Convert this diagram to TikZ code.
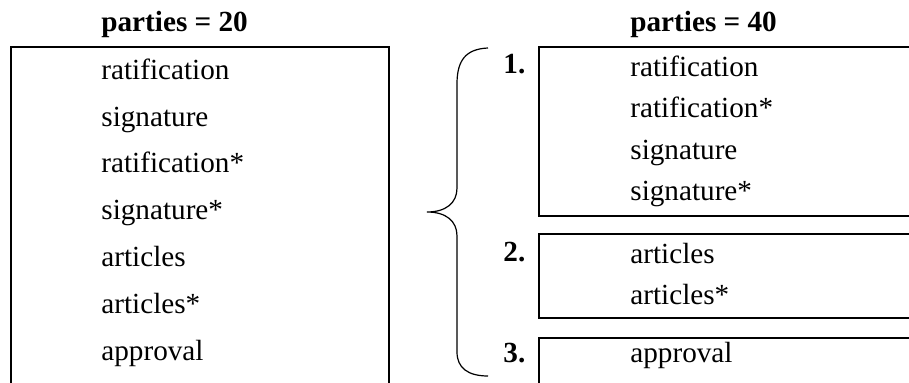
\documentclass[tikz,border=0pt]{standalone}
\usepackage{fontspec}
\setmainfont{Liberation Serif}
\usepackage{tikz}

\begin{document}
\begin{tikzpicture}[x=0.5pt,y=-0.5pt,
  item/.style={anchor=base west,inner sep=0pt,font=\fontsize{14.6}{17}\selectfont},
  head/.style={item,font=\fontsize{14.6}{17}\selectfont\bfseries},
  box/.style={line width=1pt}]
  \useasboundingbox (0,0) rectangle (909,383);
  % left column
  \node [head] (t20) at (101,32) {parties = 20};
  \draw [box] (11,383) -- (11,47) -- (389,47) -- (389,383);
  \node [item] (l1) at (101,80) {ratification};
  \node [item] (l2) at (101,127) {signature};
  \node [item] (l3) at (101,173) {ratification*};
  \node [item] (l4) at (101,220) {signature*};
  \node [item] (l5) at (101,267) {articles};
  \node [item] (l6) at (101,314) {articles*};
  \node [item] (l7) at (101,361) {approval};
  % brace
  \draw [line width=0.6pt] (488,48) .. controls (466,49) and (457,60) .. (457,84)
    -- (457,188) .. controls (457,203) and (446,212) .. (427,212)
    .. controls (446,212) and (457,221) .. (457,236)
    -- (457,352) .. controls (457,368) and (468,376) .. (488,376);
  % right column
  \node [head] (t40) at (630,32) {parties = 40};
  \draw [box] (909,47) -- (539,47) -- (539,216) -- (909,216);
  \draw [box] (909,234) -- (539,234) -- (539,318) -- (909,318);
  \draw [box] (909,338) -- (539,338) -- (539,383);
  \node [head] (n1) at (503,74) {1.};
  \node [head] (n2) at (503,262) {2.};
  \node [head] (n3) at (503,363) {3.};
  \node [item] (r1) at (630,77) {ratification};
  \node [item] (r2) at (630,118) {ratification*};
  \node [item] (r3) at (630,160) {signature};
  \node [item] (r4) at (630,201) {signature*};
  \node [item] (r5) at (630,264) {articles};
  \node [item] (r6) at (630,305) {articles*};
  \node [item] (r7) at (630,363) {approval};
\end{tikzpicture}
\end{document}
